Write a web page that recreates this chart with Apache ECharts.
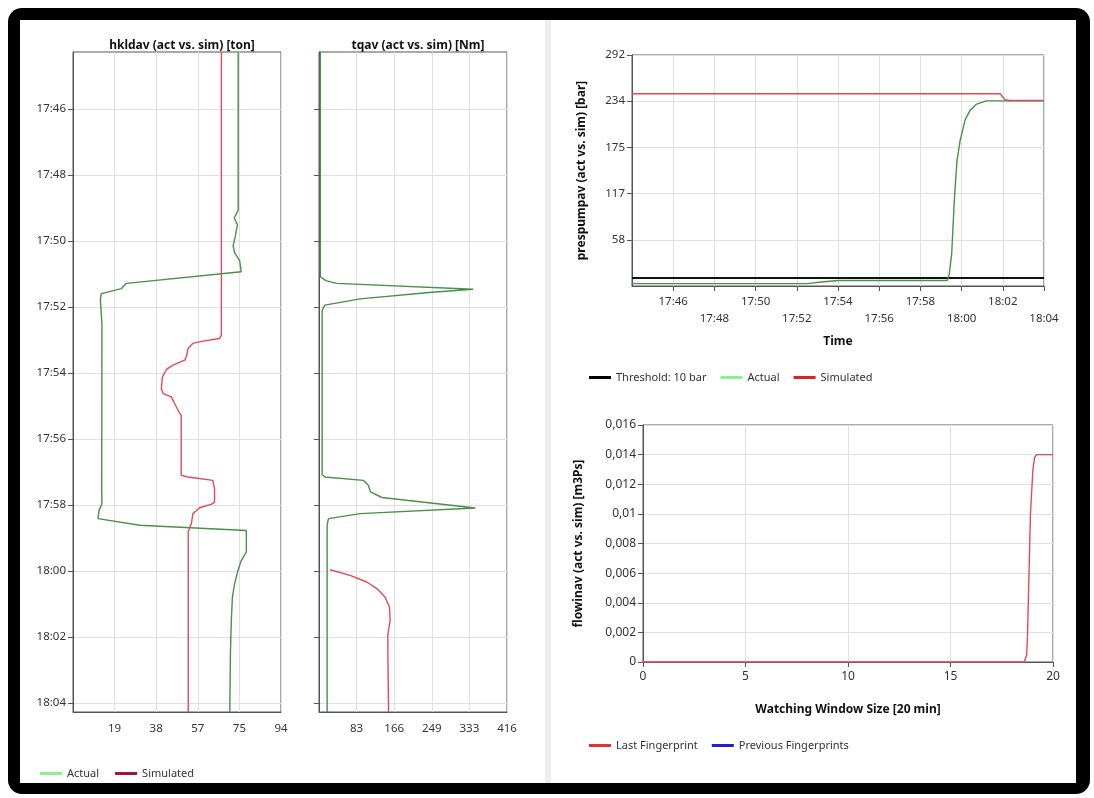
<!DOCTYPE html>
<html>
<head>
<meta charset="utf-8">
<script src="https://cdn.jsdelivr.net/npm/echarts@6/dist/echarts.min.js"></script>
<style>
  html, body { margin: 0; padding: 0; background: #fff; width: 1094px; height: 798px; overflow: hidden; }
  #frame { position: absolute; left: 8px; top: 8px; width: 1082px; height: 786px; background: #000; border-radius: 14px; }
  #inner { position: absolute; left: 20px; top: 20px; width: 1056px; height: 763px; background: #fff; }
  #divider { position: absolute; left: 545px; top: 20px; width: 6px; height: 763px; background: #eeeeee; }
  #chart { position: absolute; left: 0; top: 0; width: 1094px; height: 798px; }
</style>
</head>
<body>
<div id="frame"></div>
<div id="inner"></div>
<div id="divider"></div>
<div id="chart"></div>
<script>
// ---- Time ticks (minutes past 17:00) ----
const timeTicks = [46, 48, 50, 52, 54, 56, 58, 60, 62, 64];

// ---- hkldav [ton] (time in minutes past 17:00) ----
const hkActTime = [44.27, 49.06, 49.3, 49.5, 49.85, 50.15, 50.35, 50.6, 50.93, 51.28, 51.44, 51.59, 51.79, 52.5, 57.5, 57.96, 58.16, 58.41, 58.61, 58.77, 59.42, 59.68, 59.98, 60.38, 60.79, 61.5, 62.5, 64.27];
const hkActVal  = [74.8, 74.8, 73.0, 74.5, 73.5, 72.5, 73.2, 75.5, 76.2, 24.2, 21.9, 12.8, 12.4, 13.1, 13.0, 13.1, 11.8, 11.3, 30.2, 78.5, 78.5, 76.2, 74.7, 73.2, 72.2, 71.7, 71.3, 71.0];
const hkSimTime = [44.27, 52.85, 52.95, 53.03, 53.1, 53.26, 53.51, 53.61, 53.76, 53.89, 54.12, 54.47, 54.62, 54.72, 54.92, 55.18, 55.28, 57.1, 57.15, 57.25, 57.5, 57.91, 57.98, 58.08, 58.26, 58.56, 58.7, 58.8, 64.27];
const hkSimVal  = [67.2, 67.2, 66.4, 58.8, 54.3, 52.1, 51.3, 50.6, 45.3, 42.3, 40.5, 40.0, 40.8, 44.5, 46.0, 48.0, 49.0, 49.0, 52.1, 63.3, 64.1, 64.1, 62.6, 57.3, 54.3, 53.6, 52.8, 52.2, 52.2];

// ---- tqav [Nm] ----
const tqActTime = [44.27, 51.08, 51.2, 51.28, 51.46, 51.55, 51.75, 51.94, 52.1, 57.08, 57.15, 57.25, 57.4, 57.6, 57.77, 58.09, 58.26, 58.41, 58.6, 64.27];
const tqActVal  = [3, 3, 15, 39, 341, 250, 91, 13, 7, 7, 13, 98, 109, 114, 139, 346, 91, 21, 18, 18];
const tqSimTime = [59.96, 60.13, 60.33, 60.53, 60.79, 61.09, 61.5, 61.9, 62.46, 64.27];
const tqSimVal  = [24.4, 68.7, 105.6, 127.8, 146.3, 155.8, 157.3, 152.3, 152.3, 153.8];

// ---- prespumpav [bar] ----
const ppThrTime = [44, 64];
const ppThrVal  = [10, 10];
const ppActTime = [44, 52.5, 53.2, 54, 59.3, 59.4, 59.52, 59.63, 59.7, 59.78, 59.93, 60.17, 60.41, 60.73, 61.2, 64];
const ppActVal  = [3, 3, 5, 7, 7, 15, 41, 100, 130, 159, 184, 210, 222, 230, 234, 234];
const ppSimTime = [44, 61.87, 62.0, 62.1, 62.3, 64];
const ppSimVal  = [243, 243, 239, 235.5, 234.5, 234.5];

// ---- flowinav [m3Ps] vs watching window [min] ----
const fwLastX = [0, 18.6, 18.72, 18.76, 18.9, 19.02, 19.1, 19.2, 20];
const fwLastY = [0, 0, 0.0005, 0.002, 0.01, 0.013, 0.0138, 0.014, 0.014];
const fwPrevX = [];
const fwPrevY = [];

// ---- helpers ----
const zip = (a, b) => a.map((v, i) => [v, b[i]]);
const fmtTime = v => { const m = Math.round(v); const h = 17 + Math.floor(m / 60); const mm = m % 60; return h + ':' + (mm < 10 ? '0' : '') + mm; };

const FONT = 'Noto Sans';
const LBL = { color: '#333', fontSize: 11.5, fontFamily: FONT };
const GRIDC = '#e0e0e0';
const AXC = '#555';
const GREEN = '#4a8f4a';
const RED = '#e24a55';

function timeYAxis(gridIndex, showLabels) {
  return {
    type: 'value', gridIndex, inverse: true, min: 44.27, max: 64.27,
    axisLine: { show: true, lineStyle: { color: AXC } },
    axisTick: { show: true, inside: false, length: 5, lineStyle: { color: AXC }, customValues: timeTicks },
    axisLabel: Object.assign({}, LBL, { show: showLabels, margin: 7, customValues: timeTicks, formatter: fmtTime }),
    splitLine: { show: true, lineStyle: { color: GRIDC } }
  };
}

const chart = echarts.init(document.getElementById('chart'), null, { renderer: 'canvas' });
chart.setOption({
  animation: false,
  title: [
    { text: 'hkldav (act vs. sim) [ton]', left: 177, top: 35, textAlign: 'center', textStyle: { fontSize: 12, fontWeight: 'bold', color: '#111', fontFamily: FONT } },
    { text: 'tqav (act vs. sim) [Nm]', left: 413, top: 35, textAlign: 'center', textStyle: { fontSize: 12, fontWeight: 'bold', color: '#111', fontFamily: FONT } }
  ],
  grid: [
    { left: 73, top: 52, width: 208, height: 660, show: true, borderColor: AXC, borderWidth: 1, backgroundColor: 'transparent' },
    { left: 319, top: 52, width: 188, height: 660, show: true, borderColor: AXC, borderWidth: 1, backgroundColor: 'transparent' },
    { left: 632, top: 55, width: 412, height: 231, show: true, borderColor: AXC, borderWidth: 1, backgroundColor: 'transparent' },
    { left: 643, top: 425, width: 410, height: 237, show: true, borderColor: AXC, borderWidth: 1, backgroundColor: 'transparent' }
  ],
  xAxis: [
    { type: 'value', gridIndex: 0, min: 0, max: 94.2, interval: 18.84,
      axisLine: { show: true, lineStyle: { color: AXC } }, axisTick: { show: false },
      axisLabel: Object.assign({}, LBL, { showMinLabel: false, margin: 11, formatter: v => Math.round(v) }),
      splitLine: { show: true, lineStyle: { color: GRIDC } } },
    { type: 'value', gridIndex: 1, min: 0, max: 415.7, interval: 83.14,
      axisLine: { show: true, lineStyle: { color: AXC } }, axisTick: { show: false },
      axisLabel: Object.assign({}, LBL, { showMinLabel: false, margin: 11, formatter: v => Math.round(v) }),
      splitLine: { show: true, lineStyle: { color: GRIDC } } },
    { type: 'value', gridIndex: 2, min: 44, max: 64, interval: 2,
      name: 'Time', nameLocation: 'middle', nameGap: 50,
      nameTextStyle: { fontSize: 12, fontWeight: 'bold', color: '#111', fontFamily: FONT },
      axisLine: { show: true, lineStyle: { color: AXC } },
      axisTick: { show: true, length: 5, lineStyle: { color: AXC } },
      axisLabel: Object.assign({}, LBL, { showMinLabel: false, margin: 7, lineHeight: 17,
        formatter: v => (Math.round((v - 46) / 2) % 2 === 1 ? '\n' : '') + fmtTime(v) }),
      splitLine: { show: true, lineStyle: { color: GRIDC } } },
    { type: 'value', gridIndex: 3, min: 0, max: 20, interval: 5,
      name: 'Watching Window Size [20 min]', nameLocation: 'middle', nameGap: 42,
      nameTextStyle: { fontSize: 12, fontWeight: 'bold', color: '#111', fontFamily: FONT },
      axisLine: { show: true, lineStyle: { color: AXC } },
      axisTick: { show: true, length: 5, lineStyle: { color: AXC } },
      axisLabel: Object.assign({}, LBL, { fontSize: 12, margin: 9 }),
      splitLine: { show: true, lineStyle: { color: GRIDC } } }
  ],
  yAxis: [
    timeYAxis(0, true),
    timeYAxis(1, false),
    { type: 'value', gridIndex: 2, min: 0, max: 292, interval: 58.4,
      name: 'prespumpav (act vs. sim) [bar]', nameLocation: 'middle', nameGap: 44, nameRotate: 90,
      nameTextStyle: { fontSize: 12, fontWeight: 'bold', color: '#111', fontFamily: FONT },
      axisLine: { show: true, lineStyle: { color: AXC } },
      axisTick: { show: true, length: 5, lineStyle: { color: AXC } },
      axisLabel: Object.assign({}, LBL, { showMinLabel: false, margin: 7, formatter: v => Math.round(v) }),
      splitLine: { show: true, lineStyle: { color: GRIDC } } },
    { type: 'value', gridIndex: 3, min: 0, max: 0.016, interval: 0.002,
      name: 'flowinav (act vs. sim) [m3Ps]', nameLocation: 'middle', nameGap: 58, nameRotate: 90,
      nameTextStyle: { fontSize: 12, fontWeight: 'bold', color: '#111', fontFamily: FONT },
      axisLine: { show: true, lineStyle: { color: AXC } },
      axisTick: { show: true, length: 5, lineStyle: { color: AXC } },
      axisLabel: Object.assign({}, LBL, { fontSize: 12, margin: 7, formatter: v => String(+v.toFixed(4)).replace('.', ',') }),
      splitLine: { show: true, lineStyle: { color: GRIDC } } }
  ],
  legend: [
    { left: 35, top: 763, itemGap: 16, itemWidth: 22, itemHeight: 3, icon: 'rect',
      textStyle: Object.assign({}, LBL, { fontSize: 11 }),
      data: [ { name: 'Actual', itemStyle: { color: '#90ee90' } }, { name: 'Simulated', itemStyle: { color: '#b01030' } } ] },
    { left: 584, top: 367, itemGap: 14, itemWidth: 22, itemHeight: 3, icon: 'rect',
      textStyle: Object.assign({}, LBL, { fontSize: 11 }),
      data: [ { name: 'Threshold: 10 bar', itemStyle: { color: '#000' } }, { name: 'Actual', itemStyle: { color: '#90ee90' } }, { name: 'Simulated', itemStyle: { color: '#e02020' } } ] },
    { left: 584, top: 735, itemGap: 14, itemWidth: 22, itemHeight: 3, icon: 'rect',
      textStyle: Object.assign({}, LBL, { fontSize: 11 }),
      data: [ { name: 'Last Fingerprint', itemStyle: { color: '#e83030' } }, { name: 'Previous Fingerprints', itemStyle: { color: '#2020d0' } } ] }
  ],
  series: [
    { name: 'Simulated', type: 'line', xAxisIndex: 0, yAxisIndex: 0, symbol: 'none', data: zip(hkSimVal, hkSimTime), lineStyle: { color: RED, width: 1.4 }, itemStyle: { color: RED } },
    { name: 'Actual', type: 'line', xAxisIndex: 0, yAxisIndex: 0, symbol: 'none', data: zip(hkActVal, hkActTime), lineStyle: { color: GREEN, width: 1.4 }, itemStyle: { color: GREEN } },
    { name: 'Simulated', type: 'line', xAxisIndex: 1, yAxisIndex: 1, symbol: 'none', data: zip(tqSimVal, tqSimTime), lineStyle: { color: RED, width: 1.4 }, itemStyle: { color: RED } },
    { name: 'Actual', type: 'line', xAxisIndex: 1, yAxisIndex: 1, symbol: 'none', data: zip(tqActVal, tqActTime), lineStyle: { color: GREEN, width: 1.4 }, itemStyle: { color: GREEN } },
    { name: 'Threshold: 10 bar', type: 'line', xAxisIndex: 2, yAxisIndex: 2, symbol: 'none', data: zip(ppThrTime, ppThrVal), lineStyle: { color: '#111', width: 2 }, itemStyle: { color: '#111' } },
    { name: 'Actual', type: 'line', xAxisIndex: 2, yAxisIndex: 2, symbol: 'none', data: zip(ppActTime, ppActVal), lineStyle: { color: GREEN, width: 1.4 }, itemStyle: { color: GREEN } },
    { name: 'Simulated', type: 'line', xAxisIndex: 2, yAxisIndex: 2, symbol: 'none', data: zip(ppSimTime, ppSimVal), lineStyle: { color: RED, width: 1.4 }, itemStyle: { color: RED } },
    { name: 'Last Fingerprint', type: 'line', xAxisIndex: 3, yAxisIndex: 3, symbol: 'none', data: zip(fwLastX, fwLastY), lineStyle: { color: '#e84a55', width: 1.4 }, itemStyle: { color: '#e84a55' } },
    { name: 'Previous Fingerprints', type: 'line', xAxisIndex: 3, yAxisIndex: 3, symbol: 'none', data: zip(fwPrevX, fwPrevY), lineStyle: { color: '#2020d0', width: 1.4 }, itemStyle: { color: '#2020d0' } }
  ]
});
</script>
</body>
</html>
